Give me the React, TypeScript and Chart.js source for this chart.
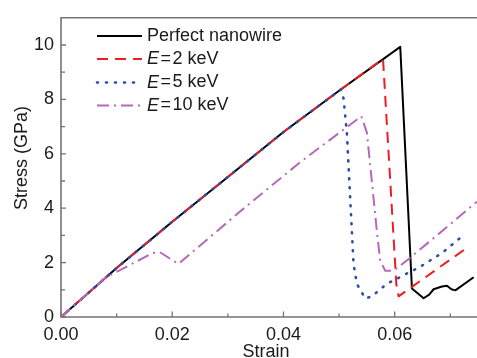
import React, { useEffect, useRef } from 'react';
import { Chart, registerables } from 'chart.js';
Chart.register(...registerables);

// ---- data ----
const xTicks = [0, 0.02, 0.04, 0.06];
const xMinorTicks = [0.01, 0.03, 0.05, 0.07];
const yTicks = [0, 2, 4, 6, 8, 10];
const yMinorTicks = [1, 3, 5, 7, 9];

const perfectX = [0, 0.01, 0.02, 0.03, 0.04, 0.05, 0.061, 0.0631, 0.0652, 0.0662, 0.067, 0.0685, 0.0694, 0.0702, 0.0709, 0.0742];
const perfectY = [0, 1.8, 3.5, 5.15, 6.8, 8.32, 9.93, 1.05, 0.69, 0.82, 1.02, 1.12, 1.15, 1.02, 0.98, 1.46];

const e2X = [0, 0.01, 0.02, 0.03, 0.04, 0.05, 0.0579, 0.0603, 0.0607, 0.0727];
const e2Y = [0, 1.8, 3.5, 5.15, 6.8, 8.32, 9.49, 1.2, 0.76, 2.5];

const e5X = [0, 0.01, 0.02, 0.03, 0.04, 0.0503, 0.0508, 0.0514, 0.052, 0.0526, 0.0532, 0.0547, 0.0559, 0.0586, 0.0646, 0.0685, 0.0726];
const e5Y = [0, 1.8, 3.5, 5.15, 6.8, 8.36, 8.04, 6.78, 4.36, 1.95, 1.22, 0.68, 0.76, 1.22, 1.85, 2.35, 3.05];

const e10X = [0, 0.008, 0.013, 0.0165, 0.0178, 0.0211, 0.0322, 0.043, 0.054, 0.055, 0.0559, 0.0568, 0.0574, 0.0583, 0.0598, 0.0628, 0.0748];
const e10Y = [0, 1.45, 1.98, 2.35, 2.38, 1.95, 3.88, 5.69, 7.38, 6.78, 4.96, 3.15, 2.07, 1.7, 1.7, 2.18, 4.24];

const legendLabels = ['Perfect nanowire', 'E=2 keV', 'E=5 keV', 'E=10 keV'];
const seriesColors = ['#000000', '#ee1c24', '#2b4fa8', '#b469b9'];

const xTitle = 'Strain';
const yTitle = 'Stress (GPa)';

const FONT = '"Liberation Sans", Arial, sans-serif';
const FS = 18;
const TEXT = '#1a1a1a';
const AXIS = '#747474';

const toPts = (xs: number[], ys: number[]) => xs.map((x, i) => ({ x, y: ys[i] }));

const dashes: number[][] = [[], [11, 7], [1, 8], [12, 5, 2, 5]];
const widths = [2, 2, 2.6, 2];
const caps: any[] = ['butt', 'butt', 'round', 'butt'];

const framePlugin = {
  id: 'framePlugin',
  beforeDatasetsDraw(chart: any) {
    const { ctx, chartArea: a, scales } = chart;
    const x = scales.x, y = scales.y;
    ctx.save();
    ctx.strokeStyle = AXIS;
    ctx.lineWidth = 1.6;
    ctx.beginPath();
    ctx.moveTo(a.right + 5, a.top);
    ctx.lineTo(a.left, a.top);
    ctx.lineTo(a.left, a.bottom);
    ctx.lineTo(a.right + 5, a.bottom);
    ctx.stroke();
    ctx.lineWidth = 1.3;
    ctx.beginPath();
    xTicks.forEach(v => { const p = x.getPixelForValue(v); ctx.moveTo(p, a.bottom); ctx.lineTo(p, a.bottom - 5.5); });
    xMinorTicks.forEach(v => { const p = x.getPixelForValue(v); ctx.moveTo(p, a.bottom); ctx.lineTo(p, a.bottom - 3.5); });
    yTicks.forEach(v => { const p = y.getPixelForValue(v); ctx.moveTo(a.left, p); ctx.lineTo(a.left + 5, p); });
    yMinorTicks.forEach(v => { const p = y.getPixelForValue(v); ctx.moveTo(a.left, p); ctx.lineTo(a.left + 4, p); });
    ctx.stroke();
    ctx.restore();
  },
  afterDraw(chart: any) {
    const { ctx, chartArea: a } = chart;
    ctx.save();
    ctx.fillStyle = TEXT;
    ctx.font = `${FS}px ${FONT}`;
    ctx.textAlign = 'center';
    ctx.textBaseline = 'middle';
    ctx.fillText(xTitle, (a.left + a.right) / 2 - 3, 352);
    ctx.save();
    ctx.translate(22, 158);
    ctx.rotate(-Math.PI / 2);
    ctx.fillText(yTitle, 0, 0);
    ctx.restore();

    // legend
    const rows = [36, 59, 82.5, 105.5];
    const x0 = 97, x1 = 142, tx = 147;
    legendLabels.forEach((lab, i) => {
      const yy = rows[i];
      ctx.save();
      ctx.strokeStyle = seriesColors[i];
      ctx.lineWidth = widths[i];
      ctx.lineCap = caps[i];
      ctx.setLineDash(dashes[i]);
      ctx.beginPath();
      ctx.moveTo(x0, yy);
      ctx.lineTo(x1, yy);
      ctx.stroke();
      ctx.restore();
      ctx.fillStyle = TEXT;
      ctx.textAlign = 'left';
      ctx.textBaseline = 'middle';
      if (lab.startsWith('E=')) {
        ctx.font = `italic ${FS}px ${FONT}`;
        ctx.fillText('E', tx, yy);
        let cx = tx + ctx.measureText('E').width + 1.5;
        ctx.font = `${FS}px ${FONT}`;
        ctx.fillText('=', cx, yy);
        cx += ctx.measureText('=').width + 1.5;
        ctx.fillText(lab.slice(2), cx, yy);
      } else {
        ctx.font = `${FS}px ${FONT}`;
        ctx.fillText(lab, tx, yy);
      }
    });
    ctx.restore();
  },
};

export default function App() {
  const ref = useRef<HTMLCanvasElement | null>(null);
  useEffect(() => {
    if (!ref.current) return;
    const series = [toPts(perfectX, perfectY), toPts(e2X, e2Y), toPts(e5X, e5Y), toPts(e10X, e10Y)];
    const chart = new Chart(ref.current, {
      type: 'line',
      data: {
        datasets: series.map((d, i) => ({
          label: legendLabels[i],
          data: d,
          borderColor: seriesColors[i],
          backgroundColor: seriesColors[i],
          borderWidth: widths[i],
          borderDash: dashes[i],
          borderCapStyle: caps[i],
          borderJoinStyle: 'round',
          pointRadius: 0,
          tension: 0,
          fill: false,
          order: 4 - i,
        })) as any,
      },
      options: {
        animation: false,
        responsive: false,
        devicePixelRatio: 1,
        layout: { padding: { top: 13, left: 0, right: 0, bottom: 0 } },
        plugins: { legend: { display: false }, tooltip: { enabled: false } },
        scales: {
          x: {
            type: 'linear',
            min: 0,
            max: 0.0748,
            afterBuildTicks: (s: any) => { s.ticks = xTicks.map(v => ({ value: v })); },
            afterFit: (s: any) => { s.height = 41; },
            grid: { display: false, drawTicks: false },
            border: { display: false },
            ticks: {
              padding: 7,
              color: TEXT,
              font: { family: FONT, size: FS },
              maxRotation: 0,
              autoSkip: false,
              callback: (v: any) => Number(v).toFixed(2),
            },
          },
          y: {
            type: 'linear',
            min: 0,
            max: 11,
            afterBuildTicks: (s: any) => { s.ticks = yTicks.map(v => ({ value: v })); },
            afterFit: (s: any) => { s.width = 61; },
            grid: { display: false, drawTicks: false },
            border: { display: false },
            ticks: {
              padding: 7,
              color: TEXT,
              font: { family: FONT, size: FS },
              autoSkip: false,
              callback: (v: any) => String(v),
            },
          },
        },
      },
      plugins: [framePlugin],
    });
    return () => chart.destroy();
  }, []);
  return (
    <div style={{ position: 'absolute', left: 0, top: 0, width: 477, height: 358, background: '#fff' }}>
      <canvas ref={ref} width={477} height={358} style={{ display: 'block', width: 477, height: 358 }} />
    </div>
  );
}
